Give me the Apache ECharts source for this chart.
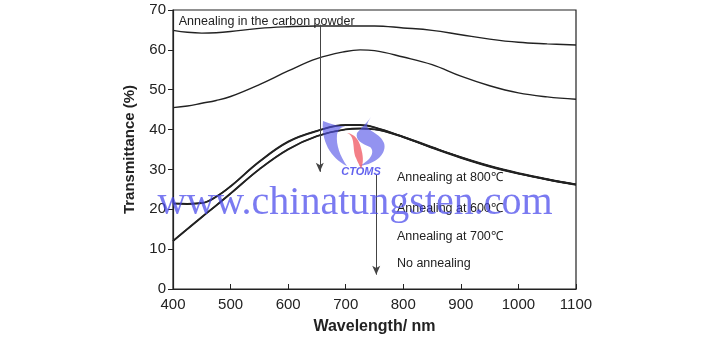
<!DOCTYPE html>
<html>
<head>
<meta charset="utf-8">
<script src="https://cdn.jsdelivr.net/npm/echarts@6/dist/echarts.min.js"></script>
<style>
  html, body { margin: 0; padding: 0; background: #fff; }
  #chart { width: 710px; height: 340px; }
</style>
</head>
<body>
<div id="chart"></div>
<script>
// wavelength (nm) shared by every curve
const wavelengths = [400, 425, 450, 475, 500, 550, 600, 650, 700, 725, 750, 800, 850, 900, 950, 1000, 1050, 1100];

const carbonPowder = [64.9, 64.4, 64.2, 64.3, 64.6, 65.4, 65.8, 66.0, 66.0, 66.0, 66.0, 65.5, 64.9, 63.8, 62.7, 61.9, 61.5, 61.2];
const secondCurve  = [45.5, 45.9, 46.6, 47.3, 48.3, 51.3, 54.7, 57.8, 59.6, 60.0, 59.8, 58.2, 56.3, 53.4, 51.0, 49.2, 48.2, 47.6];
const anneal800    = [21.5, 21.4, 21.6, 23.2, 25.8, 32.0, 37.0, 39.7, 41.2, 41.2, 40.6, 38.2, 35.5, 33.0, 30.8, 29.0, 27.5, 26.2];
const anneal600    = [21.4, 21.3, 21.5, 23.1, 25.7, 31.9, 36.9, 39.6, 41.1, 41.1, 40.5, 38.1, 35.4, 32.9, 30.7, 28.9, 27.4, 26.1];
const anneal700    = [12.0, 15.0, 18.0, 20.9, 23.9, 30.0, 35.0, 38.3, 40.0, 40.2, 40.0, 38.1, 35.5, 33.0, 30.8, 29.0, 27.5, 26.2];
const noAnnealing  = [12.1, 15.1, 18.1, 21.0, 24.0, 30.1, 35.1, 38.4, 40.1, 40.3, 40.1, 38.2, 35.6, 33.1, 30.9, 29.1, 27.6, 26.3];

const xTicks = [400, 500, 600, 700, 800, 900, 1000, 1100];
const yTicks = [0, 10, 20, 30, 40, 50, 60, 70];

// annotations, in data coordinates
const arrows = [
  [[655, 66.3], [655, 29.4]],
  [[753, 28.6], [753, 3.6]]
];
const notes = [
  { text: "Annealing in the carbon powder", at: [410, 67.1] },
  { text: "Annealing at 800℃", at: [789, 28.0] },
  { text: "Annealing at 600℃", at: [789, 20.2] },
  { text: "Annealing at 700℃", at: [789, 13.2] },
  { text: "No annealing", at: [789, 6.3] }
];

const FONT = "Liberation Sans, Arial, sans-serif";
const INK = "#222";

function pairs(values) {
  return wavelengths.map((w, i) => [w, values[i]]);
}

function curve(name, values, width) {
  return {
    name,
    type: "line",
    smooth: 0.4,
    symbol: "none",
    data: pairs(values),
    lineStyle: { color: INK, width: width || 1.4 },
    z: 3
  };
}

const chart = echarts.init(document.getElementById("chart"));

const series = [
  curve("carbon", carbonPowder),
  curve("second", secondCurve),
  curve("800", anneal800, 1.6),
  curve("600", anneal600, 1.6),
  curve("700", anneal700, 1.6),
  curve("none", noAnnealing, 1.6),
  {
    type: "line",
    data: [],
    markLine: {
      silent: true,
      symbol: ["none", "arrow"],
      symbolSize: [6, 9],
      label: { show: false },
      lineStyle: { color: "#444", width: 1, type: "solid" },
      data: arrows.map((a) => [{ coord: a[0] }, { coord: a[1] }])
    }
  }
];

chart.setOption({
  animation: false,
  grid: { left: 173, right: 134, top: 10, bottom: 47, containLabel: false, show: true, borderColor: INK, borderWidth: 1.2 },
  xAxis: {
    type: "value",
    min: 400,
    max: 1100,
    interval: 100,
    name: "Wavelength/ nm",
    nameLocation: "middle",
    nameGap: 30,
    nameTextStyle: { fontFamily: FONT, fontSize: 16, fontWeight: "bold", color: INK },
    axisLine: { lineStyle: { color: INK, width: 1.2 } },
    axisTick: { inside: true, length: 5, lineStyle: { color: INK } },
    axisLabel: {
      fontFamily: FONT, fontSize: 15, color: INK, margin: 8,
      formatter: (v) => (xTicks.includes(v) ? String(v) : "")
    },
    splitLine: { show: false }
  },
  yAxis: {
    type: "value",
    min: 0,
    max: 70,
    interval: 10,
    name: "Transmittance (%)",
    nameLocation: "middle",
    nameGap: 36,
    nameTextStyle: { fontFamily: FONT, fontSize: 15, fontWeight: "bold", color: INK },
    axisLine: { show: true, lineStyle: { color: INK, width: 1.2 } },
    axisTick: { show: true, length: 5, lineStyle: { color: INK } },
    axisLabel: {
      fontFamily: FONT, fontSize: 15, color: INK, margin: 7,
      formatter: (v) => (yTicks.includes(v) ? String(v) : "")
    },
    splitLine: { show: false }
  },
  series
});

// place the text notes through the axes
const graphics = notes.map((n) => {
  const p = chart.convertToPixel({ gridIndex: 0 }, n.at);
  return {
    type: "text",
    x: p[0],
    y: p[1],
    style: {
      text: n.text,
      font: "12.5px " + FONT,
      fill: INK,
      textVerticalAlign: "middle"
    },
    z: 10
  };
});

// watermark: CTOMS and url
const BLUE = "rgba(70, 70, 235, 0.72)";
graphics.push(
  {
    type: "text",
    x: 361,
    y: 172,
    style: {
      text: "CTOMS",
      font: "italic bold 11px " + FONT,
      fill: "rgba(70, 70, 235, 0.85)",
      textAlign: "center",
      textVerticalAlign: "middle"
    },
    z: 20
  },
  {
    type: "text",
    x: 355,
    y: 203,
    style: {
      text: "www.chinatungsten.com",
      font: "40px 'Liberation Serif', 'Times New Roman', serif",
      fill: BLUE,
      textAlign: "center",
      textVerticalAlign: "middle"
    },
    z: 20
  }
);

chart.setOption({ graphic: graphics });

// logo shapes of the watermark, drawn straight on the zrender layer
const LOGO_BLUE = "rgba(80, 80, 230, 0.62)";
const logoParts = [
  ["M323,121 C321,140 330,158 347,166 C340,156 336,145 337,135 C338,129 342,126 347,127 C338,126 330,124 323,121 Z", LOGO_BLUE],
  ["M371,117 C366,124 361,128 357,133 C355,140 362,144 370,147 C375,151 372,160 359,166 C378,164 387,152 384,143 C381,134 368,131 367,126 C367,123 369,120 371,117 Z", LOGO_BLUE],
  ["M347,133 C356,136 352,150 356,158 C358,163 360,166 361,169 C364,162 363,155 361,148 C359,140 355,134 347,133 Z", "rgba(240, 95, 105, 0.8)"]
];
const zr = chart.getZr();
logoParts.forEach(([d, fill]) => {
  const el = echarts.graphic.makePath(d, { style: { fill }, z: 100, silent: true });
  zr.add(el);
});
</script>
</body>
</html>
